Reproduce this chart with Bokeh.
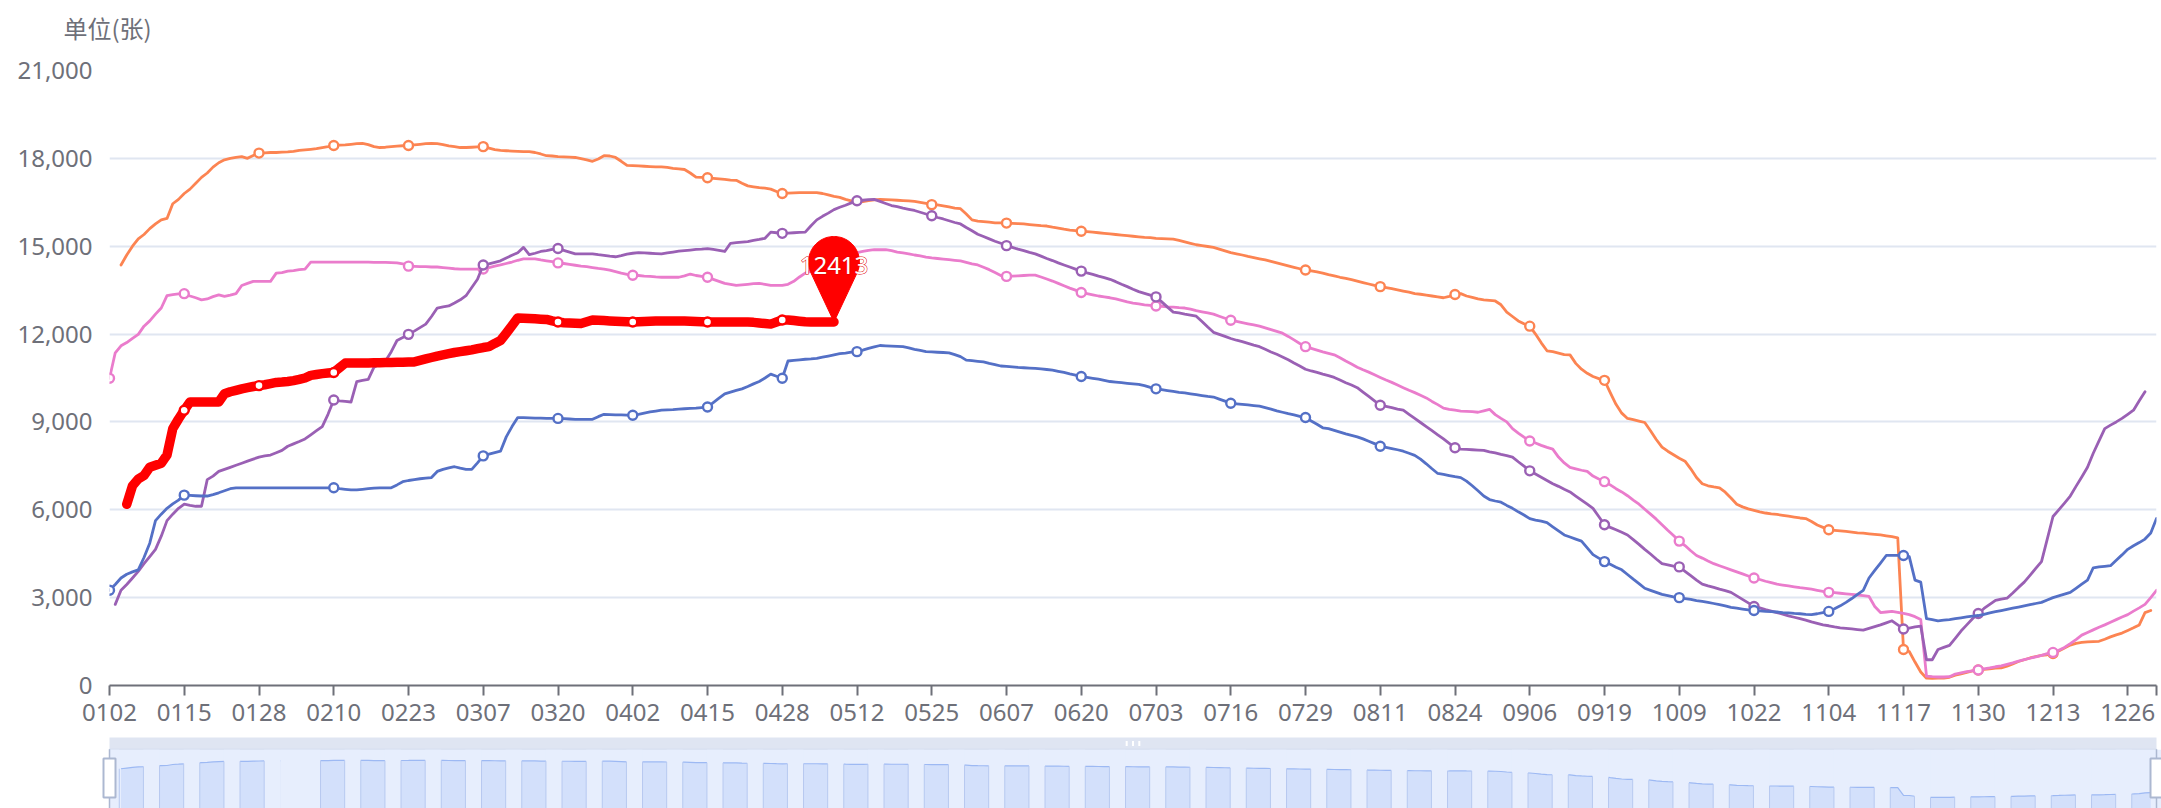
import numpy as np
from datetime import date, timedelta
from bokeh.plotting import figure
from bokeh.models import Range1d, FixedTicker, NumeralTickFormatter
from bokeh.layouts import column
from bokeh.embed import file_html
from bokeh.resources import INLINE
from bokeh.core.properties import value

# ---------------- categories (leap year, Jan 2 .. Dec 31, holidays absent) ----------------
SKIPPED_DAYS = ["0501", "1001", "1002", "1003", "1004", "1005", "1006", "1007"]
dates = []
_d = date(2024, 1, 2)
while _d <= date(2024, 12, 31):
    _k = _d.strftime("%m%d")
    if _k not in SKIPPED_DAYS:
        dates.append(_k)
    _d += timedelta(days=1)

UNIT_TITLE = "单位(张)"

# ---------------- series values (one row = 13 categories) ----------------
orange = [
    None, None, 14360, 14700, 15000, 15250, 15400, 15600, 15760, 15900, 15950, 16450, 16600,
    16800, 16950, 17150, 17350, 17500, 17700, 17850, 17950, 18000, 18030, 18060, 18000, 18100,
    18180, 18190, 18200, 18200, 18210, 18220, 18240, 18270, 18290, 18310, 18330, 18370, 18400,
    18440, 18450, 18460, 18480, 18500, 18510, 18470, 18400, 18370, 18380, 18400, 18420, 18430,
    18440, 18460, 18480, 18500, 18510, 18500, 18470, 18430, 18400, 18370, 18370, 18380, 18390,
    18400, 18350, 18300, 18270, 18260, 18250, 18240, 18230, 18230, 18200, 18150, 18090, 18080,
    18060, 18050, 18040, 18030, 17990, 17950, 17900, 17980, 18090, 18080, 18030, 17900, 17760,
    17750, 17740, 17730, 17720, 17710, 17710, 17690, 17660, 17640, 17620, 17500, 17360, 17350,
    17340, 17320, 17300, 17280, 17260, 17250, 17150, 17060, 17030, 17000, 16980, 16950, 16870,
    16800, 16810, 16820, 16830, 16830, 16830, 16830, 16800, 16750, 16700, 16670, 16600, 16550,
    16500, 16520, 16560, 16580, 16600, 16590, 16580, 16570, 16560, 16550, 16530, 16500, 16460,
    16420, 16410, 16380, 16340, 16300, 16280, 16100, 15900, 15860, 15840, 15820, 15800, 15800,
    15790, 15780, 15770, 15760, 15740, 15720, 15700, 15690, 15650, 15620, 15580, 15550, 15530,
    15510, 15500, 15480, 15460, 15440, 15420, 15400, 15380, 15360, 15340, 15320, 15300, 15290,
    15270, 15260, 15250, 15240, 15200, 15150, 15100, 15050, 15020, 14990, 14960, 14900, 14840,
    14780, 14740, 14700, 14650, 14610, 14570, 14530, 14480, 14430, 14380, 14330, 14280, 14230,
    14190, 14160, 14120, 14080, 14030, 13990, 13940, 13900, 13860, 13810, 13760, 13710, 13660,
    13620, 13590, 13550, 13510, 13470, 13430, 13380, 13360, 13330, 13300, 13270, 13240, 13290,
    13350, 13380, 13300, 13250, 13200, 13170, 13150, 13130, 13000, 12750, 12600, 12450, 12350,
    12270, 12000, 11700, 11430, 11400, 11350, 11300, 11290, 11000, 10800, 10660, 10550, 10480,
    10420, 10000, 9600, 9300, 9120, 9080, 9030, 8980, 8700, 8400, 8140, 8000, 7880,
    7760, 7660, 7400, 7100, 6890, 6820, 6780, 6750, 6600, 6400, 6190, 6100, 6030,
    5980, 5930, 5890, 5860, 5840, 5810, 5780, 5750, 5720, 5700, 5600, 5480, 5400,
    5320, 5300, 5280, 5260, 5240, 5210, 5200, 5180, 5160, 5140, 5110, 5080, 5040,
    1230, 1160, 800, 460, 250, 240, 250, 250, 280, 350, 400, 450, 500,
    530, 550, 570, 590, 600, 660, 740, 820, 880, 940, 990, 1030, 1050,
    1090, 1180, 1280, 1380, 1440, 1470, 1490, 1500, 1510, 1580, 1660, 1730, 1790,
    1880, 1970, 2070, 2490, 2560, None,
]

pink = [
    10490, 11360, 11600, 11710, 11850, 11990, 12270, 12450, 12680, 12890, 13310, 13350, 13370,
    13380, 13300, 13240, 13170, 13200, 13280, 13340, 13290, 13330, 13380, 13660, 13730, 13800,
    13800, 13800, 13800, 14080, 14100, 14150, 14170, 14200, 14220, 14460, 14460, 14460, 14460,
    14460, 14460, 14460, 14460, 14460, 14460, 14460, 14450, 14450, 14450, 14440, 14430, 14400,
    14320, 14310, 14300, 14300, 14290, 14290, 14270, 14250, 14230, 14220, 14220, 14220, 14220,
    14220, 14270, 14320, 14360, 14410, 14460, 14520, 14570, 14570, 14570, 14530, 14500, 14470,
    14430, 14410, 14380, 14350, 14320, 14300, 14270, 14240, 14220, 14180, 14130, 14080, 14040,
    14010, 14000, 13980, 13970, 13950, 13940, 13940, 13940, 13940, 13990, 14050, 14000, 13970,
    13940, 13870, 13800, 13730, 13700, 13660, 13680, 13700, 13720, 13730, 13700, 13660, 13660,
    13660, 13700, 13800, 13950, 14080, 14150, 14250, 14350, 14450, 14530, 14600, 14660, 14720,
    14780, 14820, 14860, 14880, 14880, 14880, 14850, 14800, 14770, 14740, 14700, 14670, 14630,
    14600, 14580, 14560, 14540, 14520, 14500, 14450, 14400, 14360, 14280, 14200, 14100, 14000,
    13970, 13980, 13990, 14000, 14010, 14010, 13950, 13880, 13810, 13730, 13650, 13570, 13500,
    13420, 13380, 13340, 13300, 13270, 13240, 13200, 13150, 13100, 13060, 13030, 13000, 12980,
    12960, 12950, 12930, 12920, 12900, 12890, 12850, 12800, 12760, 12720, 12680, 12610, 12540,
    12470, 12430, 12390, 12350, 12310, 12270, 12210, 12150, 12090, 12030, 11920, 11800, 11680,
    11570, 11510, 11450, 11390, 11340, 11290, 11190, 11080, 10980, 10870, 10780, 10700, 10610,
    10520, 10430, 10350, 10260, 10170, 10080, 10000, 9910, 9820, 9700, 9590, 9470, 9430,
    9400, 9370, 9360, 9350, 9330, 9380, 9430, 9250, 9120, 9000, 8770, 8620, 8480,
    8350, 8280, 8200, 8130, 8070, 7800, 7600, 7450, 7400, 7350, 7310, 7150, 7050,
    6960, 6850, 6720, 6610, 6480, 6330, 6190, 6020, 5850, 5680, 5490, 5300, 5120,
    4930, 4780, 4600, 4440, 4350, 4250, 4160, 4090, 4020, 3950, 3880, 3810, 3740,
    3670, 3620, 3560, 3510, 3460, 3430, 3400, 3370, 3340, 3320, 3290, 3250, 3210,
    3180, 3170, 3150, 3130, 3110, 3090, 3070, 3040, 2700, 2490, 2510, 2530, 2500,
    2460, 2420, 2350, 2250, 320, 300, 290, 290, 300, 390, 430, 470, 500,
    530, 570, 600, 640, 670, 720, 770, 830, 880, 930, 980, 1030, 1090,
    1130, 1200, 1300, 1430, 1570, 1720, 1810, 1900, 1990, 2070, 2160, 2250, 2340,
    2420, 2540, 2650, 2770, 3000, 3250,
]

purple = [
    None, 2770, 3250, 3450, 3670, 3900, 4160, 4400, 4650, 5100, 5630, 5850, 6050,
    6190, 6150, 6120, 6120, 7030, 7150, 7310, 7380, 7450, 7520, 7590, 7660, 7730,
    7800, 7840, 7870, 7950, 8030, 8170, 8250, 8330, 8420, 8560, 8700, 8840, 9260,
    9750, 9720, 9700, 9680, 10380, 10420, 10450, 10870, 10980, 11080, 11400, 11780, 11880,
    11990, 12100, 12220, 12340, 12600, 12890, 12930, 12960, 13060, 13170, 13310, 13590, 13870,
    14360, 14400, 14450, 14500, 14600, 14690, 14780, 14960, 14710, 14760, 14820, 14850, 14890,
    14920, 14860, 14800, 14740, 14740, 14740, 14740, 14710, 14690, 14660, 14640, 14680, 14730,
    14760, 14780, 14770, 14760, 14750, 14740, 14770, 14800, 14830, 14850, 14870, 14890, 14900,
    14920, 14890, 14860, 14820, 15100, 15120, 15140, 15160, 15200, 15230, 15270, 15480, 15460,
    15440, 15450, 15460, 15470, 15480, 15700, 15900, 16020, 16130, 16250, 16330, 16400, 16480,
    16550, 16570, 16590, 16600, 16530, 16460, 16390, 16350, 16300, 16260, 16220, 16160, 16100,
    16040, 15980, 15930, 15870, 15810, 15760, 15640, 15530, 15410, 15330, 15250, 15170, 15100,
    15020, 14960, 14900, 14850, 14790, 14740, 14660, 14580, 14510, 14430, 14360, 14290, 14220,
    14150, 14090, 14040, 13980, 13930, 13870, 13790, 13700, 13620, 13530, 13450, 13390, 13330,
    13270, 13100, 12920, 12750, 12720, 12680, 12650, 12610, 12430, 12240, 12060, 11990, 11920,
    11850, 11790, 11740, 11680, 11620, 11570, 11480, 11390, 11310, 11220, 11120, 11010, 10910,
    10800, 10740, 10690, 10630, 10580, 10520, 10430, 10340, 10260, 10170, 10020, 9870, 9720,
    9570, 9530, 9490, 9440, 9400, 9260, 9120, 8980, 8840, 8700, 8560, 8420, 8270,
    8120, 8070, 8060, 8050, 8040, 8030, 7980, 7940, 7890, 7850, 7800, 7640, 7490,
    7330, 7220, 7110, 7000, 6890, 6800, 6700, 6610, 6470, 6330, 6190, 6050, 5770,
    5490, 5400, 5320, 5230, 5140, 4980, 4820, 4650, 4490, 4320, 4160, 4120, 4080,
    4050, 3900, 3750, 3600, 3460, 3400, 3350, 3290, 3240, 3180, 3060, 2940, 2820,
    2700, 2650, 2590, 2540, 2490, 2440, 2380, 2330, 2280, 2230, 2170, 2120, 2070,
    2040, 2000, 1970, 1950, 1930, 1910, 1890, 1950, 2010, 2070, 2140, 2210, 2070,
    1930, 1960, 2000, 2030, 880, 880, 1230, 1300, 1370, 1610, 1860, 2070, 2280,
    2460, 2630, 2770, 2910, 2950, 2980, 3160, 3350, 3530, 3760, 4000, 4230, 5000,
    5770, 6000, 6230, 6470, 6800, 7120, 7450, 7930, 8350, 8770, 8890, 9000, 9120,
    9260, 9400, 9720, 10030, None, None,
]

blue = [
    3250, 3450, 3670, 3800, 3880, 3950, 4370, 4860, 5630, 5850, 6050, 6200, 6330,
    6500, 6490, 6480, 6470, 6470, 6520, 6580, 6650, 6720, 6750, 6750, 6750, 6750,
    6750, 6750, 6750, 6750, 6750, 6750, 6750, 6750, 6750, 6750, 6750, 6750, 6750,
    6750, 6720, 6700, 6680, 6680, 6700, 6720, 6740, 6750, 6750, 6750, 6850, 6960,
    7000, 7030, 7060, 7080, 7100, 7310, 7380, 7430, 7470, 7420, 7380, 7380, 7600,
    7840, 7900, 7950, 8000, 8490, 8840, 9150, 9150, 9140, 9130, 9130, 9120, 9120,
    9120, 9110, 9100, 9090, 9090, 9090, 9090, 9180, 9260, 9250, 9240, 9240, 9230,
    9230, 9260, 9300, 9340, 9370, 9400, 9410, 9420, 9440, 9450, 9460, 9470, 9490,
    9510, 9660, 9810, 9960, 10020, 10080, 10130, 10210, 10300, 10380, 10500, 10630, 10560,
    10490, 11080, 11100, 11120, 11140, 11150, 11170, 11210, 11250, 11290, 11330, 11350, 11380,
    11400, 11450, 11510, 11560, 11610, 11600, 11590, 11580, 11570, 11530, 11480, 11440, 11400,
    11390, 11380, 11370, 11360, 11300, 11230, 11110, 11090, 11070, 11050, 11000, 10960, 10910,
    10900, 10880, 10860, 10850, 10840, 10830, 10810, 10790, 10770, 10730, 10690, 10640, 10600,
    10550, 10520, 10490, 10460, 10420, 10380, 10360, 10340, 10320, 10300, 10280, 10240, 10180,
    10130, 10100, 10070, 10040, 10010, 9990, 9960, 9930, 9900, 9870, 9850, 9780, 9710,
    9640, 9620, 9600, 9580, 9560, 9540, 9490, 9440, 9380, 9330, 9280, 9240, 9190,
    9150, 9030, 8920, 8800, 8770, 8710, 8650, 8590, 8540, 8490, 8420, 8340, 8260,
    8170, 8130, 8090, 8050, 8000, 7930, 7860, 7730, 7570, 7400, 7240, 7210, 7170,
    7130, 7100, 6980, 6820, 6650, 6470, 6350, 6300, 6260, 6150, 6050, 5930, 5820,
    5700, 5650, 5610, 5560, 5420, 5280, 5140, 5070, 5000, 4930, 4700, 4470, 4350,
    4230, 4140, 4040, 3950, 3790, 3630, 3480, 3320, 3250, 3180, 3110, 3070, 3030,
    3000, 2970, 2940, 2900, 2870, 2840, 2800, 2760, 2720, 2670, 2640, 2610, 2580,
    2560, 2550, 2530, 2520, 2510, 2490, 2480, 2460, 2450, 2430, 2420, 2450, 2490,
    2530, 2620, 2720, 2840, 2970, 3110, 3250, 3670, 3930, 4180, 4440, 4440, 4440,
    4440, 4400, 3600, 3530, 2280, 2250, 2210, 2230, 2250, 2280, 2310, 2340, 2370,
    2390, 2430, 2480, 2520, 2560, 2600, 2640, 2680, 2720, 2760, 2800, 2840, 2920,
    3000, 3060, 3120, 3180, 3320, 3460, 3600, 4020, 4050, 4070, 4090, 4280, 4460,
    4650, 4770, 4880, 5000, 5210, 5700,
]

red = [
    None, None, None, 6190, 6820, 7050, 7170, 7450, 7520, 7590, 7870, 8770, 9100,
    9400, 9680, 9680, 9680, 9680, 9680, 9680, 9960, 10030, 10080, 10130, 10170, 10210,
    10240, 10270, 10310, 10350, 10360, 10380, 10410, 10450, 10500, 10590, 10620, 10650, 10670,
    10690, 10850, 11010, 11010, 11010, 11010, 11010, 11020, 11020, 11030, 11030, 11040, 11040,
    11050, 11050, 11100, 11150, 11200, 11250, 11290, 11330, 11370, 11400, 11430, 11460, 11500,
    11540, 11570, 11680, 11780, 12030, 12290, 12550, 12540, 12530, 12520, 12510, 12500, 12450,
    12410, 12390, 12380, 12370, 12360, 12420, 12480, 12470, 12460, 12450, 12440, 12430, 12420,
    12410, 12420, 12430, 12440, 12450, 12450, 12450, 12450, 12450, 12450, 12440, 12430, 12420,
    12410, 12410, 12410, 12410, 12410, 12410, 12410, 12410, 12400, 12380, 12360, 12340, 12410,
    12480, 12480, 12460, 12440, 12420, 12410, 12410, 12410, 12410, 12413,
]

# categories at which each series shows its hollow symbol
orange_symbols = [26, 39, 52, 65, 104, 117, 143, 156, 169, 208, 221, 234, 247, 260, 299, 312, 325, 338]
pink_symbols = [0, 13, 52, 65, 78, 91, 104, 156, 169, 182, 195, 208, 247, 260, 273, 286, 299, 325, 338]
purple_symbols = [39, 52, 65, 78, 117, 130, 143, 156, 169, 182, 221, 234, 247, 260, 273, 286, 312, 325]
blue_symbols = [0, 13, 39, 65, 78, 91, 104, 117, 130, 169, 182, 195, 208, 221, 260, 273, 286, 299, 312]
red_symbols = [13, 26, 39, 78, 91, 104, 117]

N = len(dates)
assert N == 357, N
for _arr in (orange, pink, purple, blue):
    assert len(_arr) == N, len(_arr)

# ---------------- layout constants (page has no margin) ----------------
FIG_W = 2161
HEAD_H = 46
MAIN_H = 690
SL_H = 72
BL, BR, BT, BB = 109, 5, 24, 51
FW = FIG_W - BL - BR
FH = MAIN_H - BT - BB
XMAX = N - 1
YMAX = 21000
PXC = FW / XMAX          # px per category
PXV = FH / YMAX          # px per unit
AXIS_GREY = "#6E7079"
NUM_FONT = "Noto Sans"

# ---------------- header strip with the unit title ----------------
h = figure(width=FIG_W, height=HEAD_H, x_range=Range1d(0, FIG_W), y_range=Range1d(HEAD_H, 0),
           output_backend="svg", toolbar_location=None, x_axis_location=None,
           y_axis_location=None, min_border=0)
h.frame_align = False
h.grid.visible = False
h.outline_line_color = None
h.text(x=[63], y=[27], text=[UNIT_TITLE], text_color=AXIS_GREY, text_align="left",
       text_baseline="middle", text_font_size="24px", text_font=value("Noto Sans CJK SC"))

# ---------------- main chart ----------------
p = figure(width=FIG_W, height=MAIN_H, x_range=Range1d(0, XMAX), y_range=Range1d(0, YMAX),
           output_backend="svg", toolbar_location=None,
           min_border_left=BL, min_border_right=BR, min_border_top=BT, min_border_bottom=BB)
p.frame_align = False
p.outline_line_color = None
p.background_fill_color = "white"
p.xgrid.grid_line_color = None
p.ygrid.grid_line_color = "#E0E6F1"
p.ygrid.grid_line_width = 2

p.yaxis.ticker = FixedTicker(ticks=list(range(0, YMAX + 1, 3000)))
p.yaxis.formatter = NumeralTickFormatter(format="0,0")
p.yaxis.axis_line_color = None
p.yaxis.major_tick_line_color = None
p.yaxis.minor_tick_line_color = None
p.yaxis.major_tick_out = 0
p.yaxis.major_tick_in = 0
p.yaxis.major_label_standoff = 17
p.yaxis.major_label_text_font = NUM_FONT
p.yaxis.major_label_text_font_size = "24px"
p.yaxis.major_label_text_color = AXIS_GREY

label_idx = list(range(0, N, 13))
p.xaxis.ticker = FixedTicker(ticks=label_idx + [XMAX])
overrides = {i: dates[i] for i in label_idx}
overrides[XMAX] = ""
p.xaxis.major_label_overrides = overrides
p.xaxis.axis_line_color = AXIS_GREY
p.xaxis.axis_line_width = 2
p.xaxis.major_tick_line_color = AXIS_GREY
p.xaxis.major_tick_line_width = 2
p.xaxis.major_tick_out = 10
p.xaxis.major_tick_in = 0
p.xaxis.minor_tick_line_color = None
p.xaxis.major_label_standoff = 8
p.xaxis.major_label_text_font = NUM_FONT
p.xaxis.major_label_text_font_size = "24px"
p.xaxis.major_label_text_color = AXIS_GREY

def arr(vals):
    return np.array([np.nan if v is None else v for v in vals], dtype=float)

series = [
    (orange, "#fc8452", 2.8, orange_symbols),
    (pink, "#ea7ccc", 2.8, pink_symbols),
    (purple, "#9a60b4", 2.8, purple_symbols),
    (blue, "#5470c6", 2.8, blue_symbols),
    (red, "#ff0000", 9.5, red_symbols),
]
for vals, color, lw, syms in series:
    y = arr(vals)
    x = np.arange(len(y))
    p.line(x, y, line_color=color, line_width=lw, line_join="round", line_cap="round")
    p.scatter(syms, y[syms], marker="circle", size=9, fill_color="white",
              line_color=color, line_width=2.4)

# markPoint pin on the last red value
tip_i = len(red) - 1
tip_v = red[-1]
R_PIN, C_PIN = 25.5, 60.0
alpha = np.degrees(np.arccos(R_PIN / C_PIN))
ang = np.radians(np.linspace(-90 + alpha, 270 - alpha, 80))
px = np.concatenate([R_PIN * np.cos(ang), [0.0]])
py = np.concatenate([C_PIN + R_PIN * np.sin(ang), [0.0]])
p.patch(tip_i + px / PXC, tip_v + py / PXV, fill_color="#ff0000", line_color="#ff0000", line_width=1)
# outlined label: outline pass, then clean white fill on top
p.text(x=[tip_i], y=[tip_v + 56 / PXV], text=[str(tip_v)], text_color="white",
       text_align="center", text_baseline="middle", text_font_size="24px",
       text_font=value(NUM_FONT), text_outline_color="#e00000")
p.text(x=[tip_i], y=[tip_v + 56 / PXV], text=[str(tip_v)], text_color="white",
       text_align="center", text_baseline="middle", text_font_size="24px",
       text_font=value(NUM_FONT))

# ---------------- dataZoom slider (page-pixel y coordinates) ----------------
s = figure(width=FIG_W, height=SL_H, x_range=Range1d(-BL / PXC, XMAX + BR / PXC),
           y_range=Range1d(808, 736), output_backend="svg", toolbar_location=None,
           x_axis_location=None, y_axis_location=None, min_border=0)
s.frame_align = False
s.grid.visible = False
s.outline_line_color = None
STRIP_TOP, SL_TOP, SL_BOT = 737.0, 748.7, 808.0
BODY = "#e7eefd"
s.quad(left=[0], right=[XMAX], top=[STRIP_TOP], bottom=[SL_TOP], fill_color="#dfe5f2", line_color=None)
s.quad(left=[0], right=[XMAX], top=[SL_TOP], bottom=[SL_BOT], fill_color=BODY,
       line_color="#d2dbee", line_width=1)

ov = [v for v in orange if v is not None]
lo, hi = min(ov), max(ov)
pad = 0.3 * (hi - lo)
lo, hi = lo - pad, hi + pad

def shadow_y(v):
    return SL_BOT - (v - lo) / (hi - lo) * (SL_BOT - SL_TOP)

ox = np.array([i for i, v in enumerate(orange) if v is not None], dtype=float)
oy = np.array([shadow_y(v) for v in orange if v is not None])
s.varea(x=ox, y1=oy, y2=SL_BOT, fill_color="#d3e0fb")
s.line(ox, oy, line_color="#9db9f3", line_width=1.2)
gl, gr = [0.0], [1.7]
ex, ey = [], []
for k in range(0, 52):
    st = 1.7 + 7 * k
    if k == 4:
        gl.append(st); gr.append(st + 7)
        continue
    gl.append(st + 4.2); gr.append(st + 7)
    for xe in (st, st + 4.2):
        j = min(max(int(round(xe)), 0), XMAX)
        if orange[j] is not None and xe <= XMAX:
            ex.append(xe); ey.append(shadow_y(orange[j]))
s.quad(left=gl, right=gr, top=SL_TOP + 0.6, bottom=SL_BOT, fill_color=BODY, line_color=None)
s.segment(x0=ex, y0=ey, x1=ex, y1=[SL_BOT] * len(ex), line_color="#b7c9f0", line_width=1)

s.segment(x0=[0, XMAX], y0=[SL_TOP, SL_TOP], x1=[0, XMAX], y1=[SL_BOT, SL_BOT],
          line_color="#ACB8D1", line_width=1.5)
s.rect(x=[0, XMAX], y=[777.5, 777.5], width=12, height=39, width_units="screen",
       fill_color="white", line_color="#ACB8D1", line_width=2)
mid = XMAX / 2
s.segment(x0=[mid - 1.1, mid, mid + 1.1], y0=[740.5] * 3, x1=[mid - 1.1, mid, mid + 1.1],
          y1=[745.5] * 3, line_color="white", line_width=2)

layout = column(h, p, s, spacing=0)
open("out.html", "w").write(file_html(layout, INLINE))
